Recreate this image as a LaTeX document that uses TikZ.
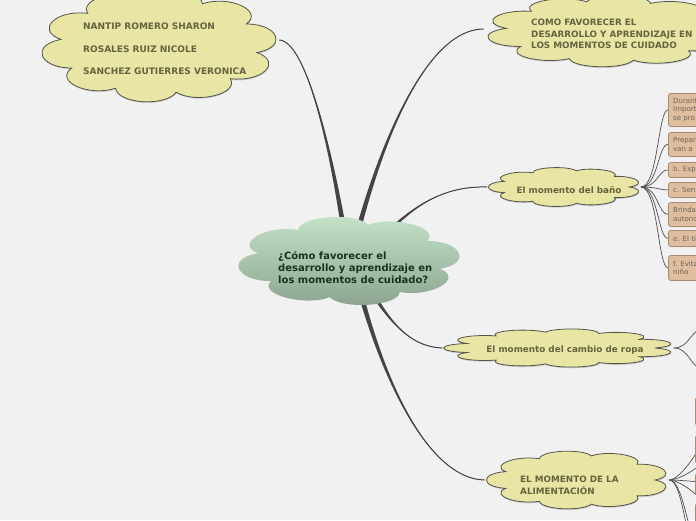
\documentclass[tikz,border=0pt]{standalone}
\usepackage{fontspec}
\setmainfont{DejaVu Sans}
\usetikzlibrary{calc,shadows,backgrounds}
\definecolor{bg}{RGB}{241,241,241}
\definecolor{ylw}{RGB}{233,229,165}
\definecolor{ylwtext}{RGB}{100,100,62}
\definecolor{cloudedge}{RGB}{85,85,72}
\definecolor{conncol}{RGB}{68,68,68}
\definecolor{greentop}{RGB}{198,228,202}
\definecolor{greenbot}{RGB}{138,162,142}
\definecolor{greentext}{RGB}{28,50,32}
\definecolor{tanfill}{RGB}{222,190,158}
\definecolor{tanedge}{RGB}{168,140,112}
\definecolor{tantext}{RGB}{112,98,84}
\definecolor{thinline}{RGB}{80,80,80}
\tikzset{
  ycloud/.style={draw=cloudedge, line width=0.8pt, fill=ylw,
    drop shadow={shadow xshift=0.4pt, shadow yshift=-1.2pt, opacity=0.35}},
  gcloud/.style={top color=greentop, bottom color=greenbot},
  anchorbox/.style={inner sep=0pt, outer sep=0pt},
  ylabel/.style={font=\bfseries\fontsize{8.8}{11.5}\selectfont, text=ylwtext, align=left, inner sep=0pt},
  tanbox/.style={draw=tanedge, fill=tanfill, rounded corners=2.5pt, line width=0.8pt,
    minimum width=90pt, inner sep=0pt,
    drop shadow={shadow xshift=0.6pt, shadow yshift=-0.8pt, opacity=0.3}},
  tanlabel/.style={font=\fontsize{7}{8.5}\selectfont, text=tantext, align=left, inner sep=0pt},
  connline/.style={draw=conncol, line width=1pt},
  branch/.style={draw=thinline, line width=0.7pt},
}
% cloud: name, style, cx, cy, rx, ry, puffs, k, phase
\newcommand\mycloud[9]{%
  \node[anchorbox, minimum width={2*#5*(1+0.75*(#8-1))}, minimum height={2*#6*(1+0.75*(#8-1))}] (#1) at (#3,#4) {};
  \pgfmathsetmacro\dd{360/#7}%
  \path[#2] ({#3+#5*cos(#9)},{#4+#6*sin(#9)})
    \foreach \i in {1,...,#7}{
      .. controls ({#3+#8*#5*cos(#9+(\i-1)*\dd+0.2*\dd)},{#4+#8*#6*sin(#9+(\i-1)*\dd+0.2*\dd)})
      and ({#3+#8*#5*cos(#9+\i*\dd-0.2*\dd)},{#4+#8*#6*sin(#9+\i*\dd-0.2*\dd)})
      .. ({#3+#5*cos(#9+\i*\dd)},{#4+#6*sin(#9+\i*\dd)})
    } -- cycle;
}
\newcommand\taperline[5]{%
  \fill[conncol] ($(#1)+(#5,0)$) .. controls ($(#2)+(#5*0.45,0)$) and (#3) .. (#4)
     .. controls (#3) and ($(#2)-(#5*0.45,0)$) .. ($(#1)-(#5,0)$) -- cycle;
  \draw[connline] (#1) .. controls (#2) and (#3) .. (#4);
}
\begin{document}
\begin{tikzpicture}[x=1pt,y=-1pt]
\useasboundingbox (0,0) rectangle (696,520);
\clip (0,0) rectangle (696,520);

% ---------- clouds ----------
\mycloud{names}{ycloud}{159}{46}{99}{47}{10}{1.3}{8}
\mycloud{topc}{ycloud}{610}{31}{104}{30}{10}{1.3}{5}
\mycloud{cen}{gcloud}{349}{261}{93}{37}{8}{1.33}{12}
\mycloud{bano}{ycloud}{565}{187}{64.5}{16.5}{9}{1.3}{0}
\mycloud{ropa}{ycloud}{559}{348}{96}{16}{11}{1.3}{0}
\mycloud{alim}{ycloud}{578}{480}{77}{24.5}{9}{1.3}{0}

% ---------- labels ----------
\node[ylabel, font=\bfseries\fontsize{9}{22.5}\selectfont, anchor=west] (namestxt) at (83,49)
  {NANTIP ROMERO SHARON\\ROSALES RUIZ NICOLE\\SANCHEZ GUTIERRES VERONICA};
\node[ylabel, anchor=west] (topctxt) at (531,34)
  {COMO FAVORECER EL\\DESARROLLO Y APRENDIZAJE EN\\LOS MOMENTOS DE CUIDADO};
\node[ylabel, font=\bfseries\fontsize{10}{12}\selectfont, text=greentext, anchor=west] (centxt) at (278,268)
  {¿Cómo favorecer el\\desarrollo y aprendizaje en\\los momentos de cuidado?};
\node[ylabel] (banotxt) at (569,190) {El momento del baño};
\node[ylabel] (ropatxt) at (565,350.5) {El momento del cambio de ropa};
\node[ylabel, anchor=west] (alimtxt) at (520,485.5) {EL MOMENTO DE LA\\ALIMENTACIÓN};

% ---------- tan boxes of "El momento del baño" ----------
\node[tanbox, anchor=north west, minimum height=33pt] (b1) at (668,93) {};
\node[tanlabel, anchor=west] (b1t) at (673,110) {Durant\\Import\\se pro};
\node[tanbox, anchor=north west, minimum height=24pt] (b2) at (668,132) {};
\node[tanlabel, anchor=west] (b2t) at (673,144.5) {Prepar\\van a};
\node[tanbox, anchor=north west, minimum height=15pt] (b3) at (668,162) {};
\node[tanlabel, anchor=west] (b3t) at (673,170) {b. Exp};
\node[tanbox, anchor=north west, minimum height=15pt] (b4) at (668,182) {};
\node[tanlabel, anchor=west] (b4t) at (673,190) {c. Sen};
\node[tanbox, anchor=north west, minimum height=24pt] (b5) at (668,202) {};
\node[tanlabel, anchor=west] (b5t) at (673,214.5) {Brinda\\autonc};
\node[tanbox, anchor=north west, minimum height=16pt] (b6) at (668,230) {};
\node[tanlabel, anchor=west] (b6t) at (673,238.5) {e. El ti};
\node[tanbox, anchor=north west, minimum height=25pt] (b7) at (668,255) {};
\node[tanlabel, anchor=west] (b7t) at (673,268) {f. Evitz\\niño};

% ---------- boxes of "EL MOMENTO DE LA ALIMENTACIÓN" (only their edge shows) ----------
\node[tanbox, anchor=north west, minimum height=28pt] (a1) at (695,397) {};
\node[tanbox, anchor=north west, minimum height=28pt] (a2) at (695,435) {};
\node[tanbox, anchor=north west, minimum height=22pt] (a3) at (695,473) {};
\node[tanbox, anchor=north west, minimum height=28pt] (a4) at (695,503) {};
\coordinate (a5) at (700,545);
\coordinate (a6) at (700,565);
\coordinate (r1) at (706,328);
\coordinate (r2) at (706,370);

% ---------- connectors (behind the clouds) ----------
\begin{pgfonlayer}{background}
\fill[bg] (0,0) rectangle (696,520);
\coordinate (s1) at ($(cen.center)+(-5,-30)$);
\coordinate (s2) at ($(cen.center)+(9,-30)$);
\coordinate (s3) at ($(cen.center)+(40,-30)$);
\coordinate (s4) at ($(cen.center)+(22,30)$);
\coordinate (s5) at ($(cen.center)+(11,30)$);
\coordinate (e1) at ($(names.east)+(-1,-6)$);
\coordinate (e2) at ($(topc.west)+(1,-2)$);
\coordinate (e3) at ($(bano.west)+(1,0)$);
\coordinate (e4) at ($(ropa.west)+(1,0)$);
\coordinate (e5) at ($(alim.west)+(1,0)$);
\taperline{s1}{331,150}{306,41}{e1}{2.6}
\taperline{s2}{385,130}{430,29}{e2}{2.6}
\taperline{s3}{420,200}{450,186}{e3}{2.4}
\taperline{s4}{392,325}{412,347}{e4}{2.4}
\taperline{s5}{385,385}{430,479}{e5}{2.6}

% branches of El momento del baño
\foreach \b in {b1,b2,b3,b4,b5,b6,b7}{
  \draw[branch] ($(bano.east)+(-3,0)$) .. controls ($(bano.east)+(14,0)$) and ($(\b.west)+(-10,0)$) .. (\b.west);
}
% branches of cambio de ropa
\foreach \b in {r1,r2}{
  \draw[branch] ($(ropa.east)+(-3,0)$) .. controls ($(ropa.east)+(14,0)$) and ($(\b)+(-16,0)$) .. (\b);
}
% branches of alimentación
\foreach \b in {a1,a2,a3,a4,a5,a6}{
  \draw[branch] ($(alim.east)+(-3,0)$) .. controls ($(alim.east)+(12,0)$) and ($(\b)+(-12,0)$) .. (\b);
}
\end{pgfonlayer}
\end{tikzpicture}
\end{document}
